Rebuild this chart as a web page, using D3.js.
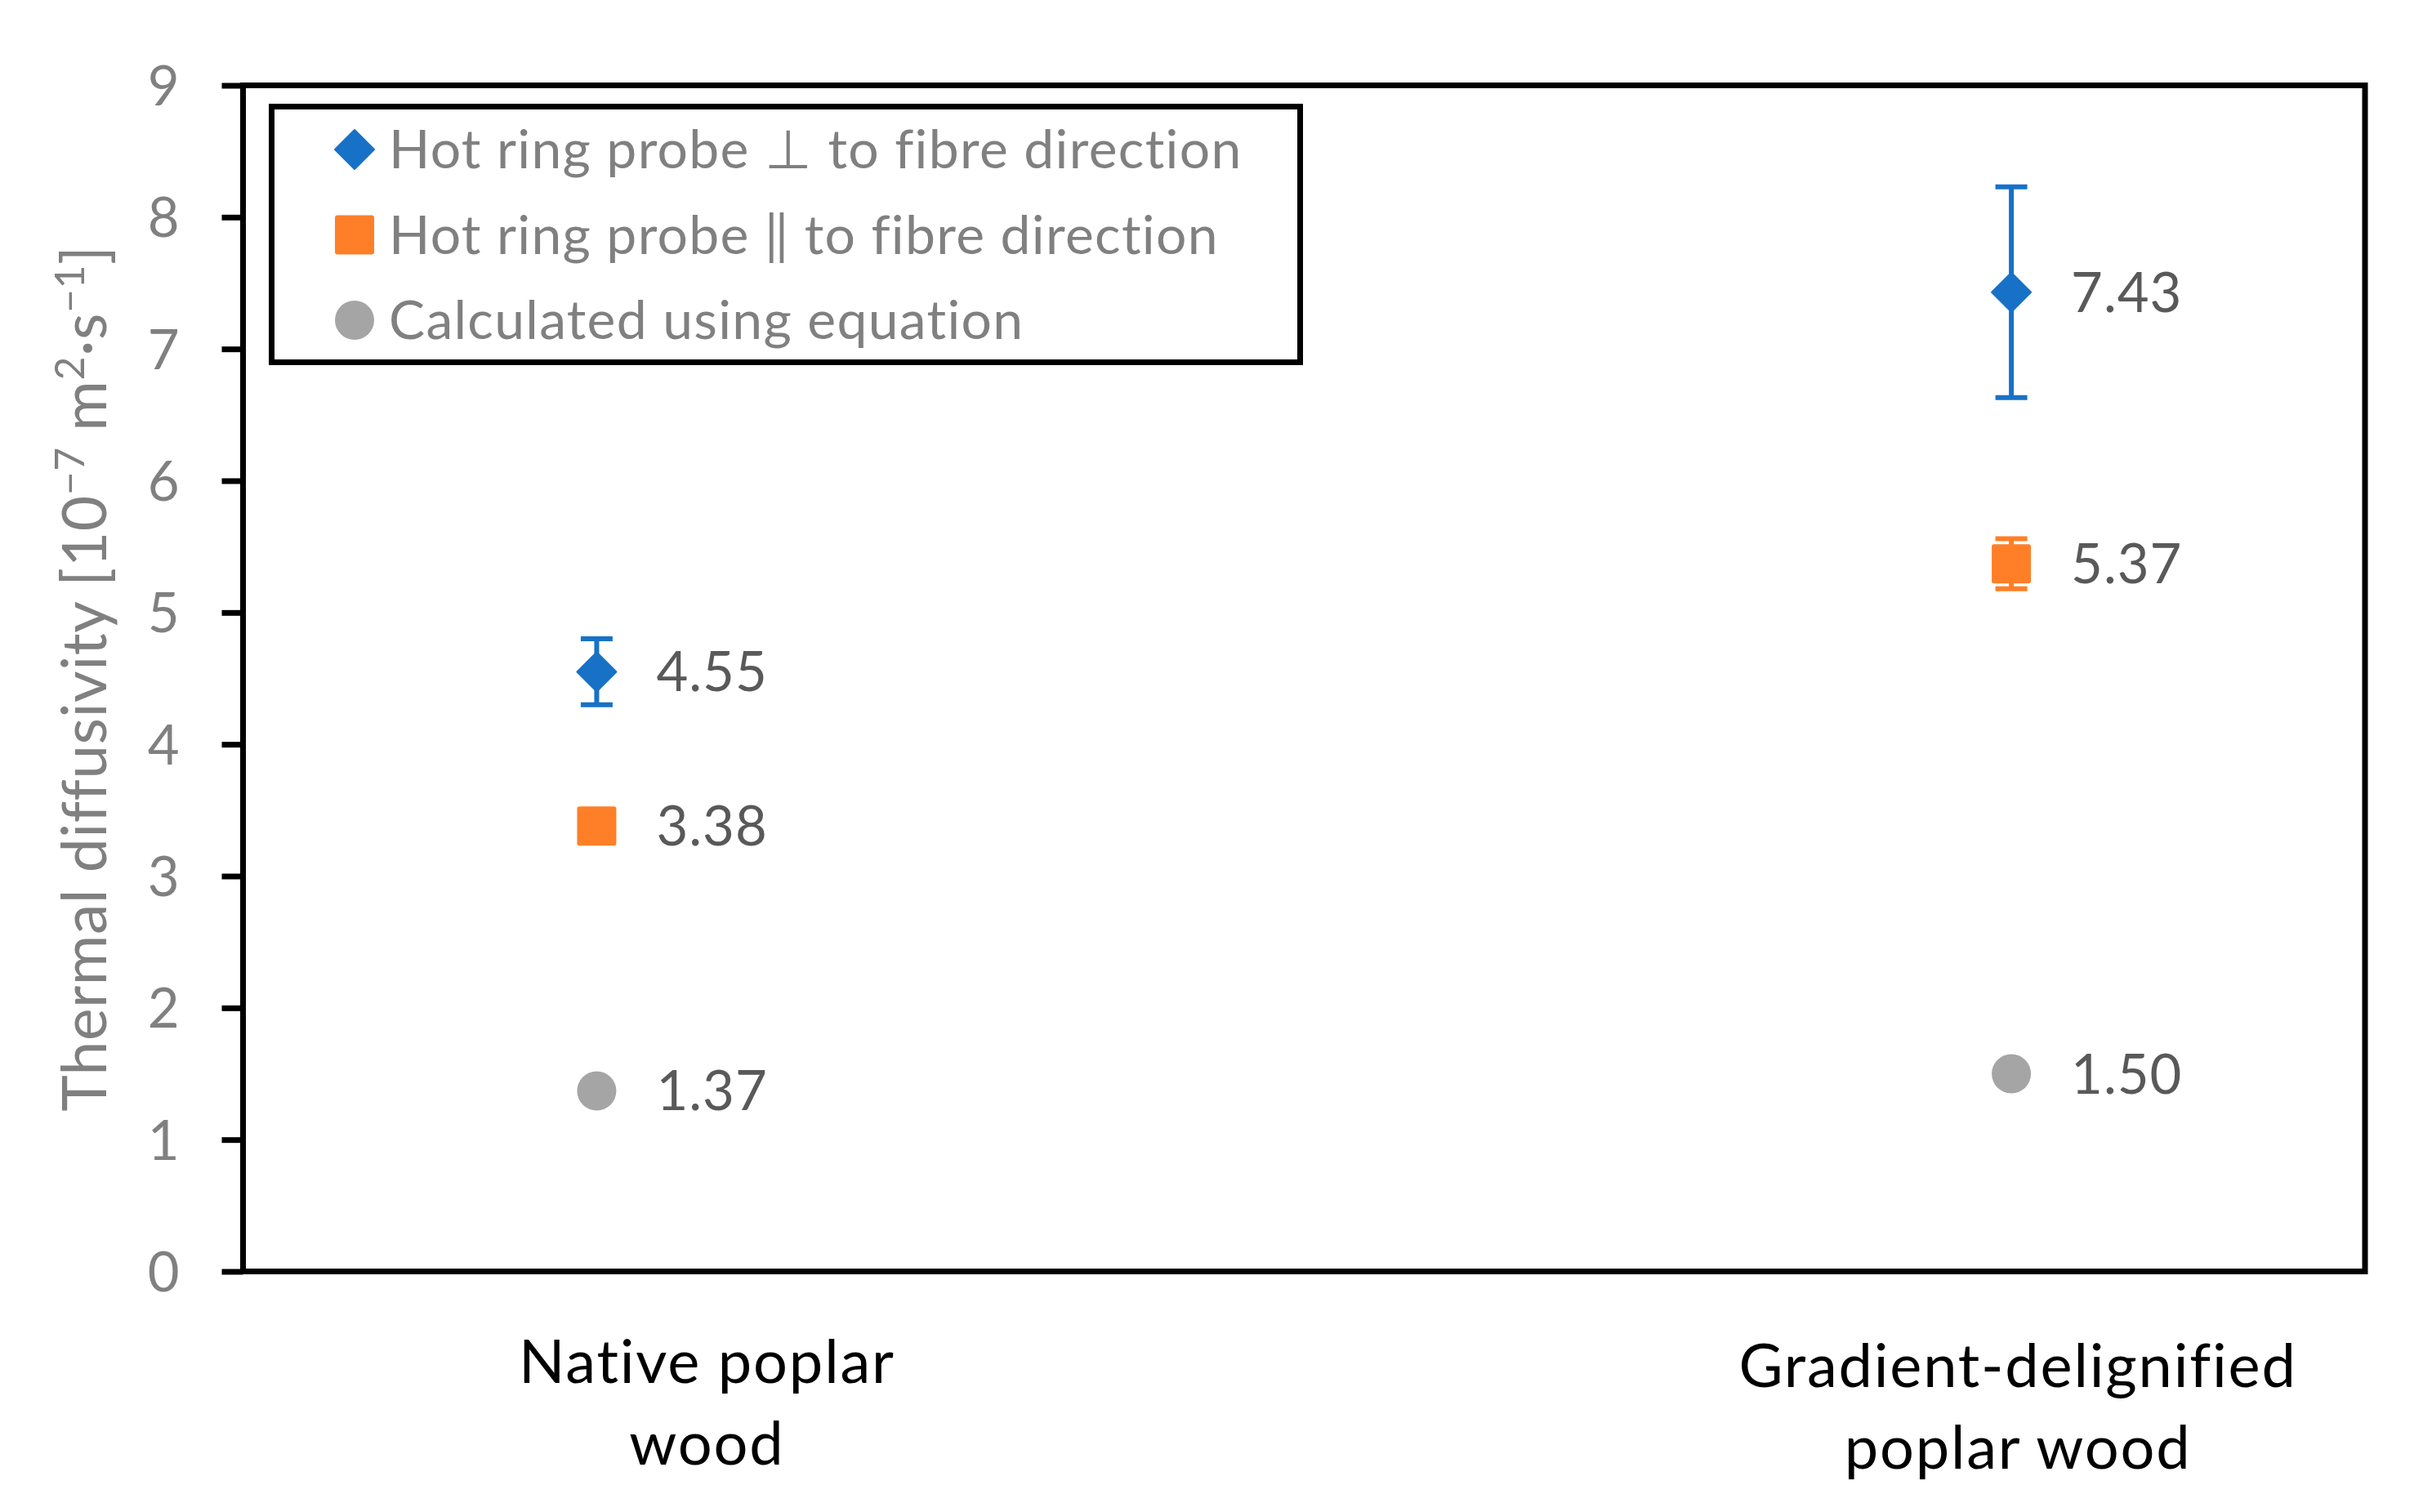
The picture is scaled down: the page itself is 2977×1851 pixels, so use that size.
<!DOCTYPE html>
<html>
<head>
<meta charset="utf-8">
<script src="https://cdn.jsdelivr.net/npm/d3@7"></script>
<style>
  body { margin: 0; background: #fff; }
  text { font-family: Lato, "Noto Sans", sans-serif; }
</style>
</head>
<body>
<svg id="svg" width="2977" height="1851"></svg>
<script>
// data
const categories = ["Native poplar wood", "Gradient-delignified poplar wood"];
const categoryLines = [["Native poplar", "wood"], ["Gradient-delignified", "poplar wood"]];
const seriesNames = ["Hot ring probe \u22A5 to fibre direction", "Hot ring probe \u2016 to fibre direction", "Calculated using equation"];
const perpValues = [4.55, 7.43];
const perpErrors = [0.25, 0.80];
const paraValues = [3.38, 5.37];
const paraErrors = [0.10, 0.19];
const calcValues = [1.37, 1.50];
const yTicks = [0, 1, 2, 3, 4, 5, 6, 7, 8, 9];

const colors = ["#1771C7", "#FE7F27", "#A5A5A5"];
const shapes = ["diamond", "square", "circle"];

const svg = d3.select("#svg");
const plotL = 297.5, plotR = 2895, plotT = 104.5, plotB = 1556.5;

const x = d3.scaleLinear().domain([0.75, 2.25]).range([plotL, plotR]);
const y = d3.scaleLinear().domain([0, 9]).range([plotB, plotT]);

// frame
svg.append("rect")
  .attr("x", plotL).attr("y", plotT)
  .attr("width", plotR - plotL).attr("height", plotB - plotT)
  .attr("fill", "none").attr("stroke", "#000").attr("stroke-width", 7);

// y axis
const yAxis = svg.append("g")
  .attr("transform", `translate(${plotL},0)`)
  .call(d3.axisLeft(y).tickValues(yTicks).tickSize(26).tickPadding(0).tickFormat(d3.format("d")));
yAxis.select(".domain").remove();
yAxis.selectAll(".tick line").attr("stroke", "#000").attr("stroke-width", 7);
yAxis.selectAll(".tick text")
  .attr("x", -78).attr("dy", "0.36em")
  .attr("fill", "#808080").style("font-size", "67px");

// y title
const yt = svg.append("text")
  .attr("transform", `translate(130,${(plotT + plotB) / 2}) rotate(-90)`)
  .attr("text-anchor", "middle")
  .attr("fill", "#808080").style("font-size", "75px").style("letter-spacing", "0.5px");
yt.append("tspan").text("Thermal diffusivity [10");
yt.append("tspan").text("\u22127").attr("dy", -27).style("font-size", "50px");
yt.append("tspan").text(" m").attr("dy", 27);
yt.append("tspan").text("2").attr("dy", -27).style("font-size", "50px");
yt.append("tspan").text("\u00B7s").attr("dy", 27);
yt.append("tspan").text("\u22121").attr("dy", -27).style("font-size", "50px");
yt.append("tspan").text("]").attr("dy", 27);

// category labels (text boxes below the plot)
const labelOffset = [135, 8];
const labelBase = [1693, 1698];
categoryLines.forEach((lines, i) => {
  lines.forEach((ln, j) => {
    svg.append("text")
      .attr("x", x(i + 1) + labelOffset[i])
      .attr("y", labelBase[i] + j * 100)
      .attr("text-anchor", "middle")
      .attr("fill", "#000").style("font-size", "74px").style("letter-spacing", "1.8px")
      .text(ln);
  });
});

function marker(g, shape, color) {
  if (shape === "diamond") {
    g.append("path").attr("d", "M0,-24L24,0L0,24L-24,0Z").attr("fill", color)
      .attr("stroke", color).attr("stroke-width", 2).attr("stroke-linejoin", "round");
  } else if (shape === "square") {
    g.append("rect").attr("x", -24).attr("y", -24).attr("width", 48).attr("height", 48)
      .attr("rx", 3).attr("fill", color);
  } else {
    g.append("circle").attr("r", 24).attr("fill", color);
  }
}

const series = [
  { values: perpValues, errors: perpErrors },
  { values: paraValues, errors: paraErrors },
  { values: calcValues, errors: null }
];

// error bars behind markers
series.forEach((s, k) => {
  if (!s.errors) return;
  const eb = svg.append("g").attr("stroke", colors[k]).attr("stroke-width", 6);
  s.values.forEach((v, i) => {
    const cx = x(i + 1);
    eb.append("line").attr("x1", cx).attr("x2", cx)
      .attr("y1", y(v + s.errors[i])).attr("y2", y(v - s.errors[i]));
    [v + s.errors[i], v - s.errors[i]].forEach(e => {
      eb.append("line").attr("x1", cx - 19.5).attr("x2", cx + 19.5)
        .attr("y1", y(e)).attr("y2", y(e));
    });
  });
});

// markers and labels
series.forEach((s, k) => {
  s.values.forEach((v, i) => {
    const g = svg.append("g").attr("transform", `translate(${x(i + 1)},${y(v)})`);
    marker(g, shapes[k], colors[k]);
    svg.append("text")
      .attr("x", x(i + 1) + 73).attr("y", y(v) + 24)
      .attr("fill", "#595959").style("font-size", "67px").style("letter-spacing", "1px")
      .text(v.toFixed(2));
  });
});

// legend
const lg = svg.append("g");
lg.append("rect").attr("x", 332.5).attr("y", 130.5).attr("width", 1259).attr("height", 313)
  .attr("fill", "#fff").attr("stroke", "#000").attr("stroke-width", 7);
seriesNames.forEach((name, k) => {
  const ry = 183 + k * 104.5;
  const g = lg.append("g").attr("transform", `translate(434,${ry})`);
  marker(g, shapes[k], colors[k]);
  lg.append("text").attr("x", 476).attr("y", ry + 23)
    .attr("fill", "#808080").style("font-size", "66px").style("letter-spacing", "1.3px").text(name);
});
</script>
</body>
</html>
